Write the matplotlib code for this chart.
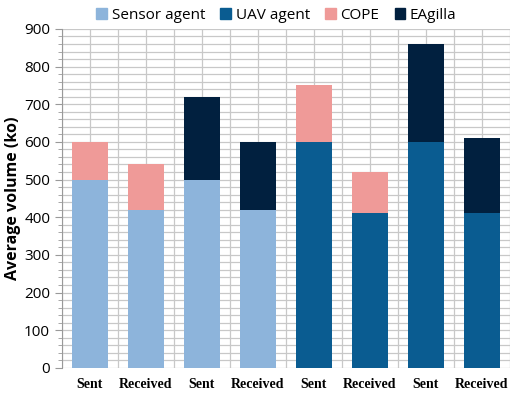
import numpy as np
import matplotlib.pyplot as plt
from matplotlib.ticker import MultipleLocator
from matplotlib.patches import Patch

labels = ['Sent', 'Received', 'Sent', 'Received', 'Sent', 'Received', 'Sent', 'Received']
sensor = [500, 420, 500, 420, 0, 0, 0, 0]
uav = [0, 0, 0, 0, 600, 410, 600, 410]
cope = [100, 120, 0, 0, 150, 110, 0, 0]
eagilla = [0, 0, 220, 180, 0, 0, 260, 200]

c_sensor = '#8DB4DB'
c_uav = '#0A5C91'
c_cope = '#EF9A98'
c_eag = '#01203F'


def main():
    fig = plt.figure(figsize=(5.12, 3.96), dpi=100)
    ax = fig.add_axes([0.121, 0.071, 0.875, 0.856])

    x = np.arange(len(labels))
    w = 0.63
    base = np.array(sensor) + np.array(uav)
    ax.bar(x, sensor, w, color=c_sensor, zorder=3)
    ax.bar(x, uav, w, color=c_uav, zorder=3)
    ax.bar(x, cope, w, bottom=base, color=c_cope, zorder=3)
    ax.bar(x, eagilla, w, bottom=base + np.array(cope), color=c_eag, zorder=3)

    # grid: minor every 20 on y, vertical every half category
    ax.set_xlim(-0.5, 7.5)
    ax.set_ylim(0, 900)
    ax.yaxis.set_major_locator(MultipleLocator(100))
    ax.yaxis.set_minor_locator(MultipleLocator(20))
    ax.grid(axis='y', which='both', color='#C8C8C8', lw=0.9, zorder=0)
    for v in np.arange(-0.5, 7.51, 0.5):
        ax.axvline(v, color='#C8C8C8', lw=0.9, zorder=0)

    ax.set_xticks(x)
    ax.set_xticklabels(labels, family='Liberation Serif', fontweight='bold', fontsize=10)
    ax.tick_params(axis='x', length=0, pad=7)
    ax.tick_params(axis='y', which='major', length=5, color='#999999', labelsize=11)
    ax.tick_params(axis='y', which='minor', length=3, color='#999999')
    for lab in ax.get_yticklabels():
        lab.set_family('Open Sans')

    for s in ['top', 'right', 'bottom']:
        ax.spines[s].set_visible(False)
    ax.spines['left'].set_color('#999999')

    ax.set_ylabel('Average volume (ko)', fontweight='bold', fontsize=11.5, family='Open Sans',
                  labelpad=2)

    handles = [Patch(color=c_sensor, label='Sensor agent'),
               Patch(color=c_uav, label='UAV agent'),
               Patch(color=c_cope, label='COPE'),
               Patch(color=c_eag, label='EAgilla')]
    fig.legend(handles=handles, loc='upper center', bbox_to_anchor=(0.54, 1.015), ncol=4,
               frameon=False, handlelength=0.7, handleheight=0.7,
               handletextpad=0.3, columnspacing=1.0, prop={'family': 'Open Sans', 'size': 11})

    fig.savefig('out.png', dpi=100)


if __name__ == '__main__':
    main()
